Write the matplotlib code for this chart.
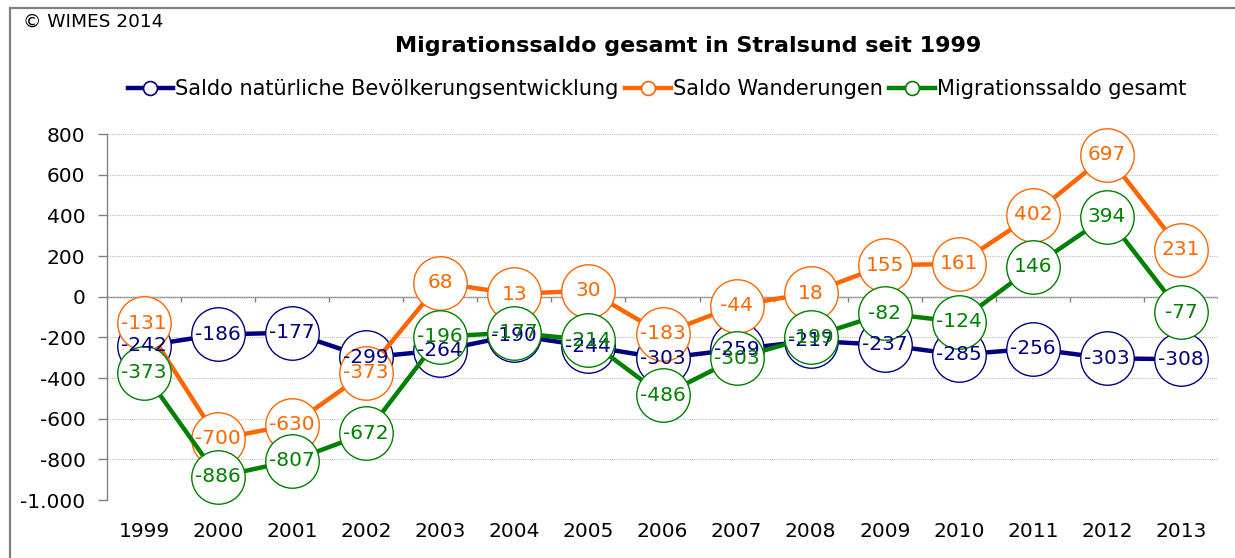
import matplotlib
matplotlib.use("Agg")
import matplotlib.pyplot as plt
from matplotlib.patches import Rectangle
from matplotlib.ticker import FuncFormatter
from matplotlib.lines import Line2D

years = ["1999", "2000", "2001", "2002", "2003", "2004", "2005", "2006",
         "2007", "2008", "2009", "2010", "2011", "2012", "2013"]
natuerlich = [-242, -186, -177, -299, -264, -190, -244, -303, -259, -217, -237, -285, -256, -303, -308]
wanderungen = [-131, -700, -630, -373, 68, 13, 30, -183, -44, 18, 155, 161, 402, 697, 231]
gesamt = [-373, -886, -807, -672, -196, -177, -214, -486, -303, -199, -82, -124, 146, 394, -77]

series_names = ["Saldo natürliche Bevölkerungsentwicklung", "Saldo Wanderungen", "Migrationssaldo gesamt"]
series_colors = ["#000080", "#FF6600", "#008000"]
series_values = [natuerlich, wanderungen, gesamt]

title = "Migrationssaldo gesamt in Stralsund seit 1999"
copyright_text = "© WIMES 2014"
yticks = [-1000, -800, -600, -400, -200, 0, 200, 400, 600, 800]

plt.rcParams['font.family'] = ['DejaVu Sans']

W, H = 1235, 558
fig = plt.figure(figsize=(W / 100, H / 100), dpi=100)
ax = fig.add_axes([107 / W, 1 - 500 / H, (1218 - 107) / W, (500 - 134) / H])

x = list(range(len(years)))

for i, (name, col, vals) in enumerate(zip(series_names, series_colors, series_values)):
    ax.plot(x, vals, color=col, lw=3.2, zorder=3 + i, solid_capstyle='butt',
            marker='o', markersize=38.5, markerfacecolor='white',
            markeredgecolor=col, markeredgewidth=1.0, clip_on=False)
    for xi, v in zip(x, vals):
        ax.text(xi, v, str(v), color=col, fontsize=14.5, ha='center', va='center',
                zorder=10 + i)

handles = [Line2D([], [], color=c, lw=3.2, marker='o', markersize=10,
                  markerfacecolor='white', markeredgecolor=c, markeredgewidth=1.2)
           for c in series_colors]
fig.legend(handles, series_names, loc='center', bbox_to_anchor=(657 / W, 1 - 89 / H),
           ncol=3, frameon=False, fontsize=15, handlelength=2.2,
           handletextpad=0.1, columnspacing=0.3, borderpad=0)

ax.set_xlim(-0.5, len(years) - 0.5)
ax.set_ylim(-1000, 800)
ax.set_yticks(yticks)
ax.yaxis.set_major_formatter(FuncFormatter(lambda v, p: f"{int(v):,}".replace(",", ".")))
ax.set_xticks(x)
ax.set_xticklabels(years)
ax.tick_params(axis='x', length=0, labelsize=14.5, pad=16)
ax.tick_params(axis='y', length=6.5, width=1, color='#808080', labelsize=14.5, pad=9,
               direction='out')

ax.grid(axis='y', color='#BFBFBF', linestyle=(0, (1, 1)), lw=0.8, zorder=0)
for s in ['top', 'right', 'bottom']:
    ax.spines[s].set_visible(False)
ax.spines['left'].set_color('#808080')
ax.spines['left'].set_linewidth(1)

ax.axhline(0, color='#808080', lw=1, zorder=1)
ax.vlines([b - 0.5 for b in range(1, len(years) + 1)], -25, 0, color='#808080', lw=1, zorder=1)

fig.text(688 / W, 1 - 46 / H, title, ha='center', va='center', fontsize=16, fontweight='bold')
fig.text(23 / W, 1 - 22 / H, copyright_text, ha='left', va='center', fontsize=13.3)

fig.patches.append(Rectangle((10 / W, -0.1), 1.2, 1.1 - 8 / H, transform=fig.transFigure,
                             fill=False, edgecolor='#808080', lw=1.6))

fig.savefig("out.png", dpi=100)
